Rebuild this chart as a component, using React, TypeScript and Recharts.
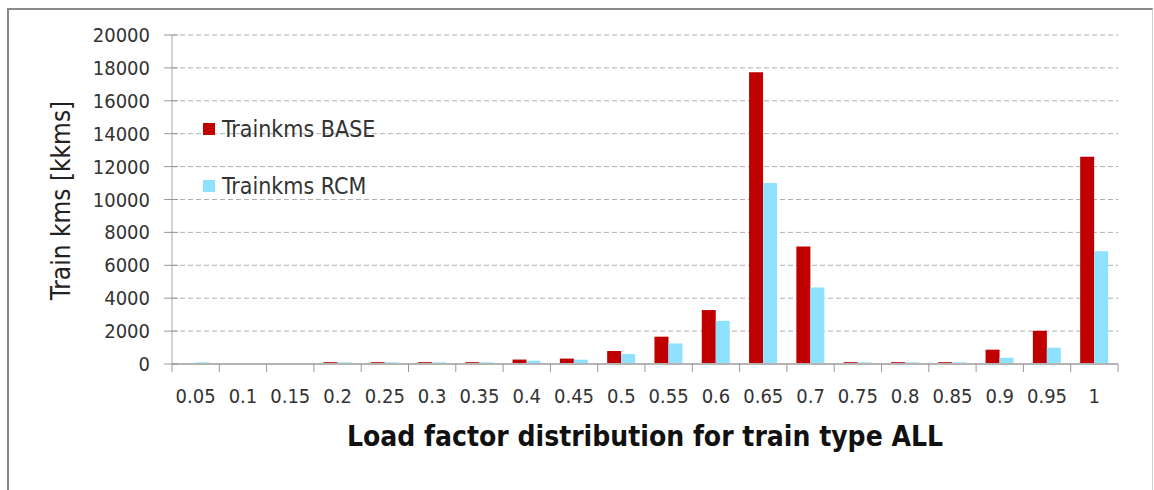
import {
  BarChart,
  Bar,
  XAxis,
  YAxis,
  CartesianGrid,
  Legend,
} from "recharts";

const categories = [
  "0.05", "0.1", "0.15", "0.2", "0.25", "0.3", "0.35", "0.4", "0.45", "0.5",
  "0.55", "0.6", "0.65", "0.7", "0.75", "0.8", "0.85", "0.9", "0.95", "1",
];
const baseValues = [
  0, 0, 0, 110, 110, 110, 110, 270, 330, 790,
  1660, 3280, 17730, 7150, 110, 110, 110, 870, 2020, 12600,
];
const rcmValues = [
  100, 0, 0, 100, 100, 100, 100, 200, 260, 610,
  1250, 2620, 11000, 4650, 100, 100, 100, 380, 990, 6850,
];
const yTicks = [0, 2000, 4000, 6000, 8000, 10000, 12000, 14000, 16000, 18000, 20000];

const data = categories.map((c, i) => ({
  lf: c,
  base: baseValues[i],
  rcm: rcmValues[i],
}));

const W = 1154;
const H = 490;
const LEFT = 172;
const RIGHT = 36;
const BAND = (W - LEFT - RIGHT) / categories.length;
const FONT = "'DejaVu Sans Condensed', 'DejaVu Sans', sans-serif";

const XTick = (props: any) => {
  const { x, y, payload, index } = props;
  const last = index === categories.length - 1;
  return (
    <g>
      <line x1={x - BAND / 2} x2={x - BAND / 2} y1={y} y2={y + 8} stroke="#999" />
      {last && (
        <line x1={x + BAND / 2} x2={x + BAND / 2} y1={y} y2={y + 8} stroke="#999" />
      )}
      <text x={x} y={y + 39} textAnchor="middle" fontFamily={FONT} fontSize={20} fill="#333">
        {payload.value}
      </text>
    </g>
  );
};

const YTick = (props: any) => {
  const { x, y, payload } = props;
  return (
    <g>
      <line x1={x - 8} x2={x + 6} y1={y} y2={y} stroke="#999" />
      <text x={x - 22} y={y + 7} textAnchor="end" fontFamily={FONT} fontSize={20} fill="#333">
        {payload.value}
      </text>
    </g>
  );
};

const LegendBox = (props: any) => (
  <div>
    {props.payload.map((p: any) => (
      <div
        key={p.value}
        style={{
          display: "flex",
          alignItems: "center",
          height: 28,
          marginBottom: 29,
          fontFamily: FONT,
          fontSize: 23,
          color: "#333",
          lineHeight: "28px",
          whiteSpace: "nowrap",
        }}
      >
        <span
          style={{
            width: 12,
            height: 12,
            background: p.color,
            display: "inline-block",
            marginRight: 7,
          }}
        />
        {p.value}
      </div>
    ))}
  </div>
);

const App = () => {
  return (
    <div style={{ position: "absolute", left: 0, top: 0, width: W, height: H, background: "#fff" }}>
      <div
        style={{
          position: "absolute",
          left: 7,
          top: 8,
          width: 1143,
          height: 490,
          borderLeft: "2px solid #8a8a8a",
          borderTop: "2px solid #8a8a8a",
          borderRight: "1px solid #cfcfcf",
        }}
      />
      <div style={{ position: "absolute", left: 0, top: 0 }}>
        <BarChart
          width={W}
          height={H}
          data={data}
          margin={{ top: 35, right: RIGHT, left: 0, bottom: 0 }}
          barCategoryGap="20%"
          barGap={0}
        >
          <CartesianGrid vertical={false} stroke="#b0b0b0" strokeDasharray="5 3" />
          <XAxis
            dataKey="lf"
            height={126}
            axisLine={{ stroke: "#b4b4b4", strokeWidth: 2 }}
            tickLine={false}
            tickSize={0}
            tickMargin={0}
            interval={0}
            tick={<XTick />}
            label={(props: any) => {
              const vb = props.viewBox;
              return (
                <text
                  x={vb.x + vb.width / 2}
                  y={vb.y + 82}
                  textAnchor="middle"
                  fontFamily="'Liberation Sans Narrow', 'DejaVu Sans Condensed', sans-serif"
                  fontWeight="bold"
                  fontSize={28}
                  fill="#111"
                >
                  Load factor distribution for train type ALL
                </text>
              );
            }}
          />
          <YAxis
            width={LEFT}
            domain={[0, 20000]}
            ticks={yTicks}
            interval={0}
            axisLine={{ stroke: "#a8a8a8" }}
            tickLine={false}
            tickSize={0}
            tickMargin={0}
            tick={<YTick />}
            label={(props: any) => {
              const vb = props.viewBox;
              const cx = 61;
              const cy = vb.y + vb.height / 2 + 1;
              return (
                <text
                  x={cx}
                  y={cy}
                  transform={`rotate(-90, ${cx}, ${cy})`}
                  textAnchor="middle"
                  dominantBaseline="central"
                  fontFamily={FONT}
                  fontSize={26}
                  fill="#222"
                >
                  Train kms [kkms]
                </text>
              );
            }}
          />
          <Legend
            layout="vertical"
            verticalAlign="middle"
            align="center"
            content={<LegendBox />}
            wrapperStyle={{ left: 203, top: 115, width: 240 }}
          />
          <Bar dataKey="base" name="Trainkms BASE" fill="#C00000" isAnimationActive={false} />
          <Bar dataKey="rcm" name="Trainkms RCM" fill="#8FE2FF" isAnimationActive={false} />
        </BarChart>
      </div>
    </div>
  );
};

export default App;
